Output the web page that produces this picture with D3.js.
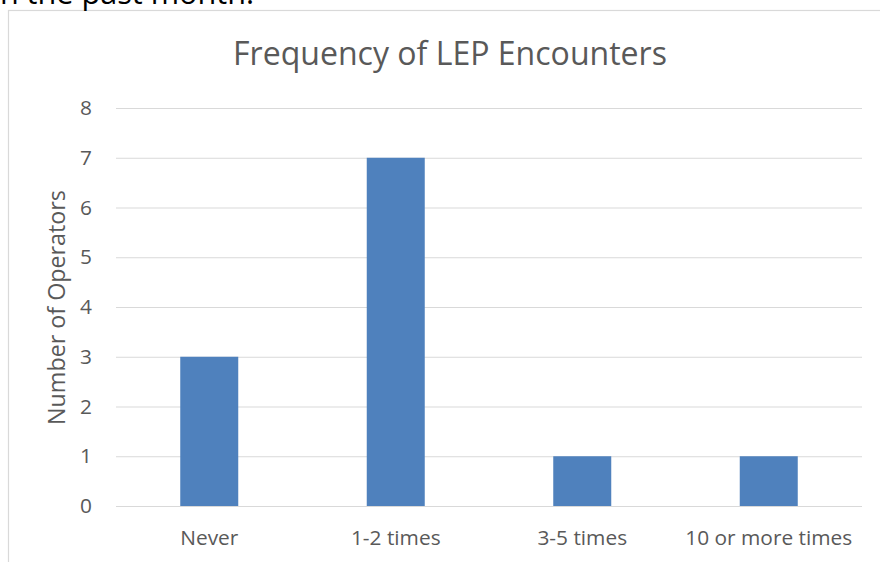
<!DOCTYPE html>
<html><head><meta charset="utf-8">
<script src="https://cdn.jsdelivr.net/npm/d3@7"></script>
<style>body{margin:0;background:#fff}svg{display:block}</style>
</head><body>
<svg id="c" width="880" height="562"></svg>
<script>
const categories = ["Never", "1-2 times", "3-5 times", "10 or more times"];
const values = [3, 7, 1, 1];
const yTicks = [0, 1, 2, 3, 4, 5, 6, 7, 8];
const title = "Frequency of LEP Encounters";
const yLabel = "Number of Operators";
const aboveText = "in the past month.";

const font = "'Open Sans', sans-serif";
const svg = d3.select("#c");
const plot = {left: 116, right: 862, top: 108, bottom: 506};

function fit(sel, target) {
  const n = sel.node();
  const fs = parseFloat(sel.attr("font-size"));
  const w = n.getComputedTextLength();
  if (w > 0) sel.attr("font-size", (fs * target / w).toFixed(2));
  return sel;
}

// frame (cut off at right and bottom)
svg.append("rect").attr("x", 8.5).attr("y", 10.5).attr("width", 1000).attr("height", 1000)
  .attr("fill", "none").attr("stroke", "#d9d9d9").attr("stroke-width", 1.2);

// text above chart (cropped by the top edge, as in the reference)
const at = svg.append("text").attr("x", 254).attr("y", 4).attr("text-anchor", "end")
  .attr("font-family", font).attr("font-size", 28).attr("fill", "#000").text(aboveText);
fit(at, 262);

const x = d3.scaleBand().domain(categories).range([plot.left, plot.right])
  .paddingInner(0.689).paddingOuter(0.3445);
const y = d3.scaleLinear().domain([0, 8]).range([plot.bottom, plot.top]);

const tickFs = 20.8;

// grid
const yAxis = d3.axisLeft(y).tickValues(yTicks).tickSize(-(plot.right - plot.left)).tickPadding(24).tickFormat(d3.format("d"));
const gy = svg.append("g").attr("transform", `translate(${plot.left},0)`).call(yAxis);
gy.select(".domain").remove();
gy.selectAll(".tick line").attr("stroke", "#d9d9d9").attr("stroke-width", 1.2);
gy.selectAll(".tick text").attr("font-family", font).attr("font-size", tickFs).attr("fill", "#595959");

// bars
svg.append("g").selectAll("rect").data(values).join("rect")
  .attr("x", (d, i) => x(categories[i]))
  .attr("width", x.bandwidth())
  .attr("y", d => y(d))
  .attr("height", d => y(0) - y(d))
  .attr("fill", "#4f81bd");

// x axis
const xAxis = d3.axisBottom(x).tickSize(0).tickPadding(24);
const gx = svg.append("g").attr("transform", `translate(0,${plot.bottom})`).call(xAxis);
gx.select(".domain").remove();
gx.selectAll(".tick text").attr("font-family", font).attr("font-size", tickFs).attr("fill", "#595959");
const last = gx.selectAll(".tick text").filter(d => d === "10 or more times");
fit(last, 167);
const fsT = last.attr("font-size");
gx.selectAll(".tick text").attr("font-size", fsT);
gy.selectAll(".tick text").attr("font-size", fsT);

// title
const tt = svg.append("text").attr("x", 450).attr("y", 65).attr("text-anchor", "middle")
  .attr("font-family", font).attr("font-size", 32).attr("fill", "#595959").text(title);
fit(tt, 434);

// y label
const yl = svg.append("text").attr("transform", "translate(65,307.5) rotate(-90)").attr("text-anchor", "middle")
  .attr("font-family", font).attr("font-size", 23).attr("fill", "#595959").text(yLabel);
fit(yl, 235);
</script>
</body></html>
